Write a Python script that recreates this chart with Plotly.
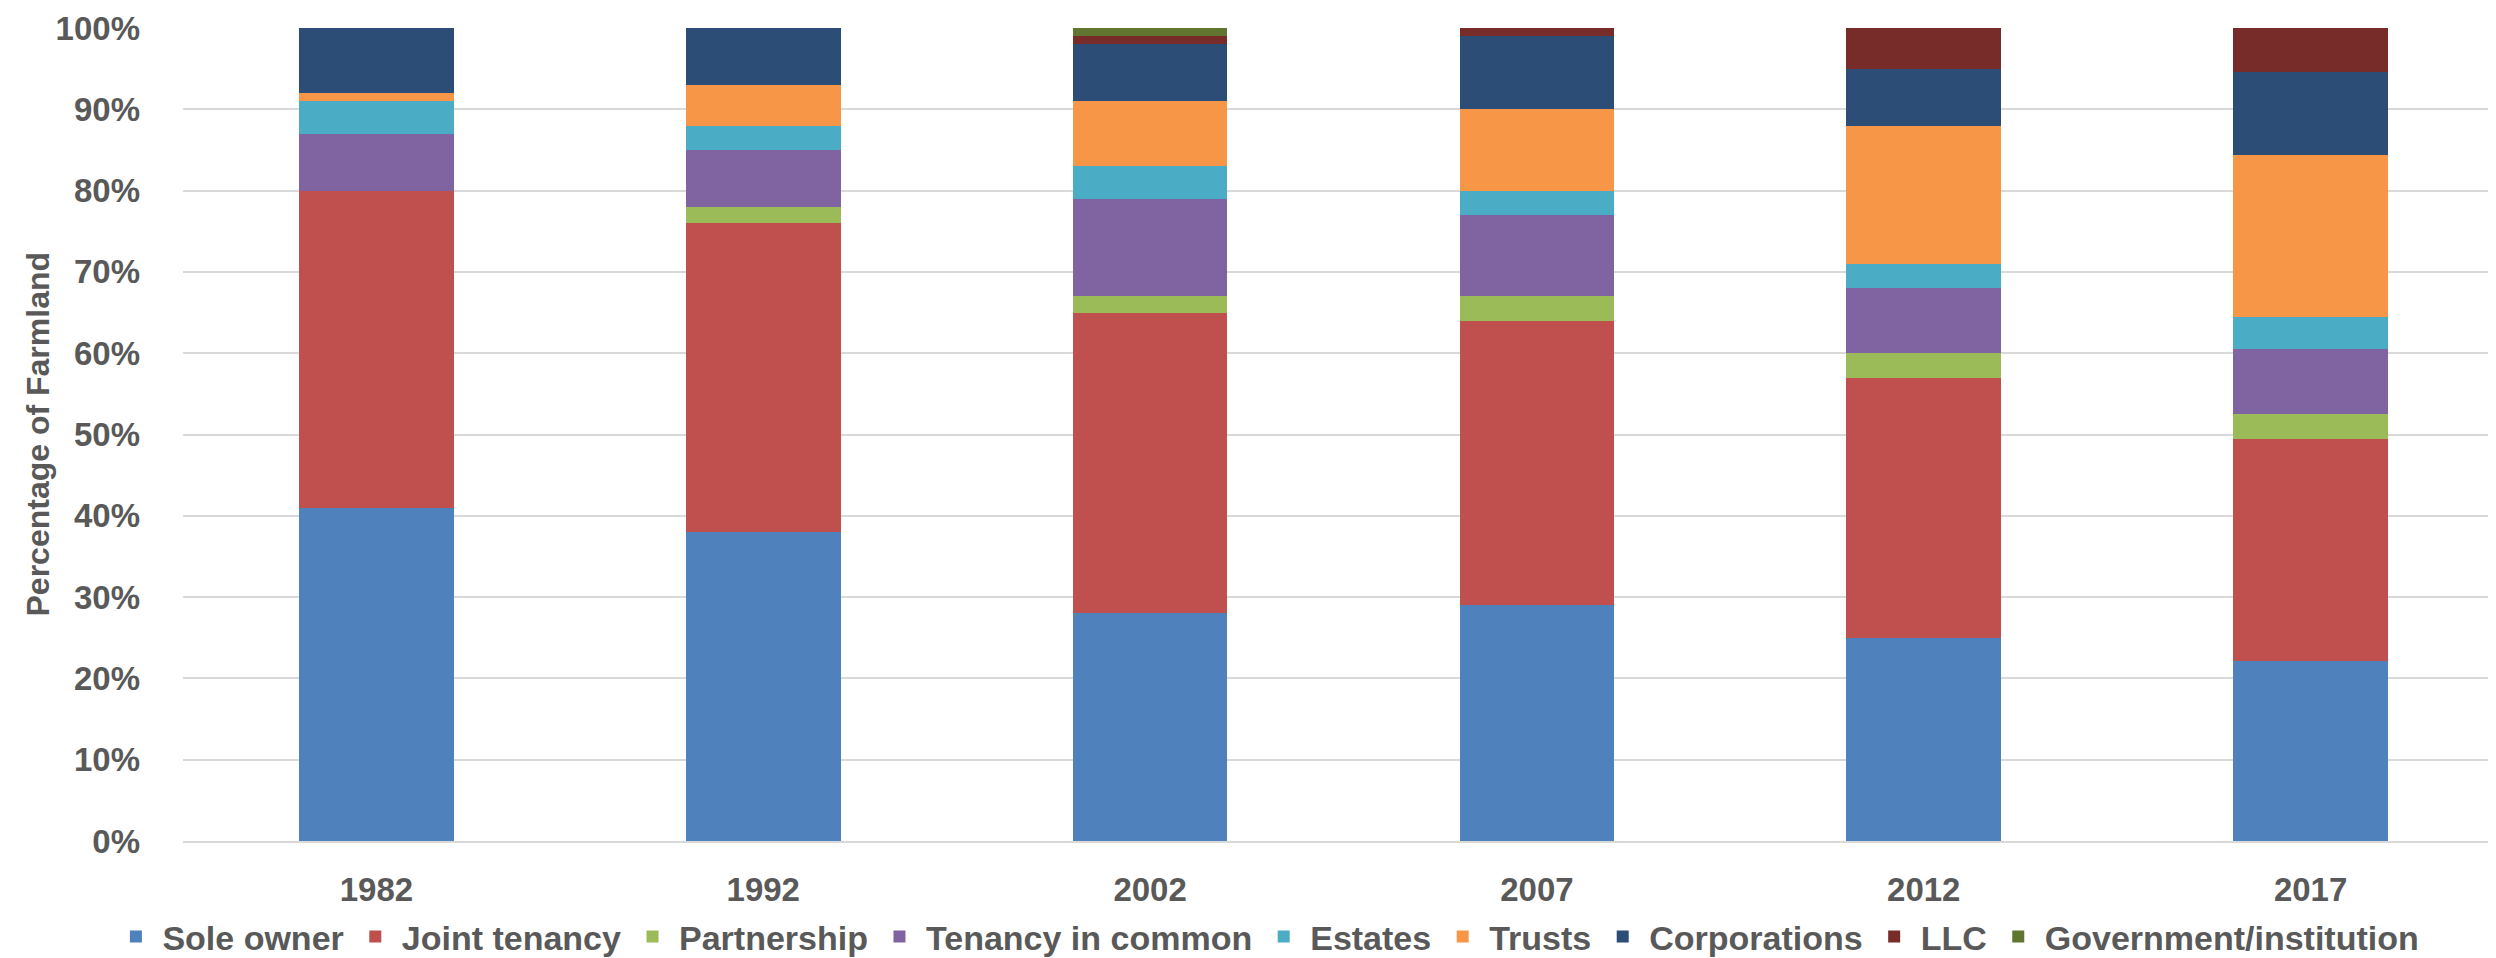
import plotly.graph_objects as go

years = ["1982", "1992", "2002", "2007", "2012", "2017"]

sole_owner = [41, 38, 28, 29, 25, 22.1]
joint_tenancy = [39, 38, 37, 35, 32, 27.4]
partnership = [0, 2, 2, 3, 3, 3.0]
tenancy_in_common = [7, 7, 12, 10, 8, 8.0]
estates = [4, 3, 4, 3, 3, 3.9]
trusts = [1, 5, 8, 10, 17, 20.0]
corporations = [8, 7, 7, 9, 7, 10.2]
llc = [0, 0, 1, 1, 5, 5.4]
government = [0, 0, 1, 0, 0, 0]

series = [
    ("Sole owner", sole_owner, "#4F81BD"),
    ("Joint tenancy", joint_tenancy, "#C0504D"),
    ("Partnership", partnership, "#9BBB59"),
    ("Tenancy in common", tenancy_in_common, "#8064A2"),
    ("Estates", estates, "#4BACC6"),
    ("Trusts", trusts, "#F79646"),
    ("Corporations", corporations, "#2C4D75"),
    ("LLC", llc, "#772C2A"),
    ("Government/institution", government, "#5F7530"),
]

FONT = "Liberation Sans, Arial, sans-serif"
TXT = "#595959"

fig = go.Figure()
for name, vals, color in series:
    fig.add_trace(go.Bar(
        name=name, x=years, y=[v / 100 for v in vals],
        marker=dict(color=color, line=dict(width=0)),
    ))

fig.update_layout(
    barmode="stack",
    bargap=0.6,
    width=2496, height=958,
    margin=dict(l=175, r=0, t=20, b=117),
    paper_bgcolor="white", plot_bgcolor="white",
    font=dict(family=FONT, size=33, color=TXT),
    showlegend=True,
    legend=dict(
        orientation="h", x=0.467, xanchor="center", y=-0.118, yanchor="middle",
        font=dict(family=FONT, size=34, color=TXT, weight="bold"),
        traceorder="normal", itemsizing="constant",
        tracegroupgap=0, itemwidth=43,
    ),
)

fig.update_yaxes(
    range=[0, 1], tickvals=[i / 10 for i in range(11)],
    tickformat=".0%",
    showgrid=True, gridcolor="#D9D9D9", gridwidth=2,
    zeroline=False, showline=False,
    tickfont=dict(family=FONT, size=33, color=TXT, weight="bold"),
    ticklabelstandoff=42,
    fixedrange=True,
)
fig.update_xaxes(
    showline=True, linecolor="#D9D9D9", linewidth=2,
    tickfont=dict(family=FONT, size=33, color=TXT, weight="bold"),
    ticklabelstandoff=18,
)

fig.add_annotation(
    text="Percentage of Farmland", textangle=-90,
    xref="paper", yref="paper", x=0, y=0.5,
    xshift=-146, xanchor="center", yanchor="middle", showarrow=False,
    font=dict(family=FONT, size=32, color=TXT, weight="bold"),
)

fig.write_html("out.html")
